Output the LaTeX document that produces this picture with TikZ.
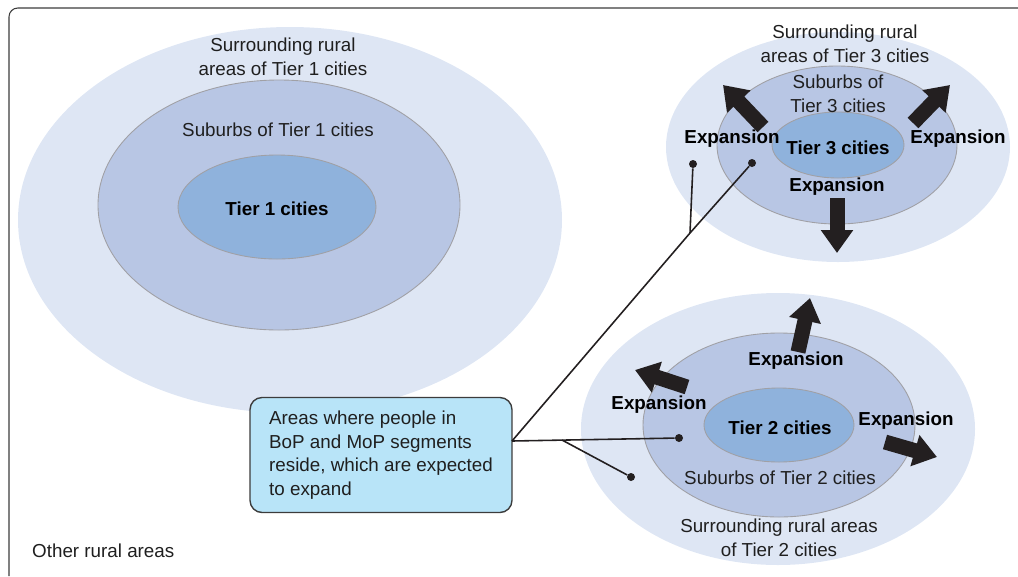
\documentclass[tikz,border=0pt]{standalone}
\usepackage{fontspec}
\setmainfont{Liberation Sans}
\usetikzlibrary{arrows.meta}
\definecolor{ruralblue}{RGB}{222,230,244}
\definecolor{suburbblue}{RGB}{184,198,228}
\definecolor{cityblue}{RGB}{143,178,220}
\definecolor{calloutcyan}{RGB}{184,228,248}
\definecolor{arrowblack}{RGB}{35,31,32}
\definecolor{rimgray}{RGB}{160,160,165}
\definecolor{framegray}{RGB}{60,60,60}
\tikzstyle{rural}=[fill=ruralblue]
\tikzstyle{suburb}=[fill=suburbblue,draw=rimgray,line width=0.5pt]
\tikzstyle{city}=[fill=cityblue,draw=rimgray,line width=0.5pt]
\tikzstyle{growth}=[draw=arrowblack,line width=0.3cm,-{Triangle[length=0.46cm,width=0.62cm]}]
\tikzstyle{leader}=[draw=arrowblack,line width=0.9pt]
\tikzstyle{leaderdot}=[circle,fill=arrowblack,inner sep=0pt,minimum size=0.16cm]
\tikzstyle{lbl}=[font=\fontsize{10.7}{13.4}\selectfont,align=center,text=black!88]
\tikzstyle{boldlbl}=[lbl,font=\fontsize{10.7}{13.4}\selectfont\bfseries,text=black]

\begin{document}
\begin{tikzpicture}[x=0.02cm,y=-0.02cm]
  \useasboundingbox (0,0) rectangle (1018,576);
  \draw[framegray,line width=0.6pt,rounded corners=5pt] (1018,8) -- (9,8) -- (9,576);

  % Tier 1
  \fill[rural] (290,220) ellipse (272 and 193);
  \draw[suburb] (279,205) ellipse (181 and 125);
  \draw[city] (277,207) ellipse (99 and 52);
  \node[lbl] (t1ruraltext) at (283,57) {Surrounding rural\\areas of Tier 1 cities};
  \node[lbl] (t1subtext) at (278,130) {Suburbs of Tier 1 cities};
  \node[boldlbl] (t1text) at (277,209) {Tier 1 cities};

  % Tier 3
  \fill[rural] (838,147) ellipse (172 and 115);
  \draw[suburb] (837,145) ellipse (120 and 79);
  \draw[city] (838,145) ellipse (66 and 33);
  \node[lbl] (t3ruraltext) at (845,44) {Surrounding rural\\areas of Tier 3 cities};
  \node[lbl] (t3subtext) at (838,94) {Suburbs of\\Tier 3 cities};
  \node[boldlbl] (t3text) at (838,148) {Tier 3 cities};
  \draw[growth] (763,127) -- (723,85);
  \draw[growth] (913,123) -- (950,85);
  \draw[growth] (837,198) -- (837,253);
  \node[boldlbl] (t3expleft) at (732,139) {Expansion};
  \node[boldlbl] (t3expright) at (958,139) {Expansion};
  \node[boldlbl] (t3expdown) at (837,187) {Expansion};

  % Tier 2
  \fill[rural] (778,429) ellipse (197 and 136);
  \draw[suburb] (779,425) ellipse (136 and 92);
  \draw[city] (779,425) ellipse (75 and 37);
  \node[boldlbl] (t2text) at (780,428) {Tier 2 cities};
  \node[lbl] (t2subtext) at (780,478) {Suburbs of Tier 2 cities};
  \node[lbl] (t2ruraltext) at (779,538) {Surrounding rural areas\\of Tier 2 cities};
  \draw[growth] (798,352) -- (810,298);
  \draw[growth] (687,387) -- (635,370);
  \draw[growth] (885,442) -- (937,457);
  \node[boldlbl] (t2expup) at (796,361) {Expansion};
  \node[boldlbl] (t2expleft) at (659,405) {Expansion};
  \node[boldlbl] (t2expright) at (906,421) {Expansion};

  \node[lbl,anchor=west] (othertext) at (26,551) {Other rural areas};

  % callout
  \node[lbl,align=left,fill=calloutcyan,draw=framegray,line width=0.8pt,rounded corners=0.24cm,
        minimum width=5.24cm,minimum height=2.3cm] (callout) at (381,455)
        {Areas where people in\\BoP and MoP segments\\reside, which are expected\\to expand};
  \coordinate (hub) at (512,441);
  \coordinate (t3fork) at (690,233);
  \coordinate (t2fork) at (562,440);
  \node[leaderdot] (t3sub) at (752,163) {};
  \node[leaderdot] (t3rural) at (693,164) {};
  \node[leaderdot] (t2sub) at (679,438) {};
  \node[leaderdot] (t2rural) at (631,477) {};
  \draw[leader] (hub) -- (t3fork) -- (t3sub);
  \draw[leader] (t3fork) -- (t3rural);
  \draw[leader] (hub) -- (t2sub);
  \draw[leader] (t2fork) -- (t2rural);
\end{tikzpicture}
\end{document}
